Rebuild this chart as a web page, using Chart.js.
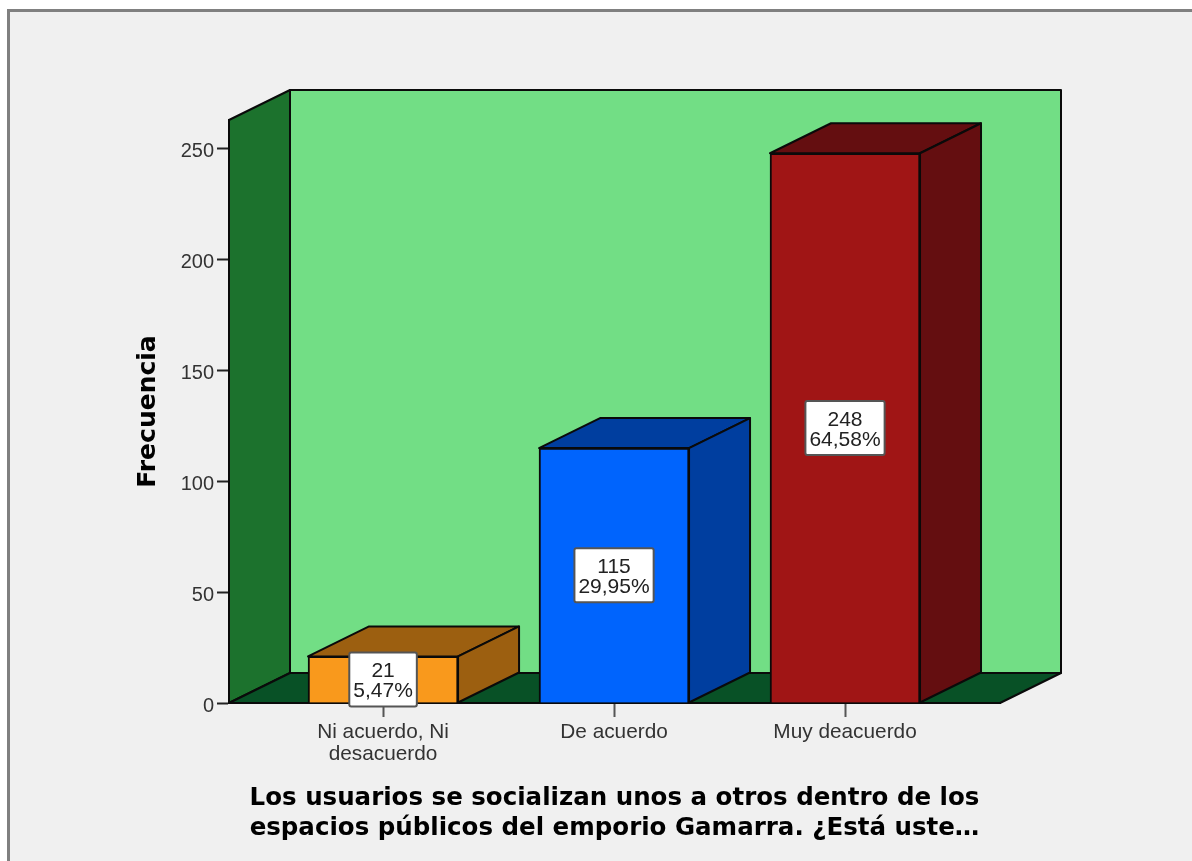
<!DOCTYPE html>
<html>
<head>
<meta charset="utf-8">
<title>Frecuencia</title>
<script src="https://cdn.jsdelivr.net/npm/chart.js@4"></script>
<style>
    html, body { margin: 0; background: #fff; overflow: hidden; }
    #frame {
        position: absolute; left: 7px; top: 9px; right: -4px; bottom: -4px;
        background: #f0f0f0; border: 3px solid #808080;
    }
    #myChart { position: absolute; left: 0; top: 0; filter: blur(0.5px); }
</style>
</head>
<body>
<div id="frame"></div>
<canvas id="myChart" width="1192" height="861"></canvas>
<script>
const categories = [['Ni acuerdo, Ni', 'desacuerdo'], 'De acuerdo', 'Muy deacuerdo'];
const counts = [21, 115, 248];
const percents = ['5,47%', '29,95%', '64,58%'];
const frontColors = ['#f9991c', '#0064fd', '#a01515'];
const sideColors = ['#9c5f10', '#003e9f', '#640e10'];
const yTicks = [0, 50, 100, 150, 200, 250];
const xTitle = ['Los usuarios se socializan unos a otros dentro de los', 'espacios públicos del emporio Gamarra. ¿Está uste…'];

// how far the back of the 3D box sits from the front
const depthX = 61;
const depthY = 30;

function poly(ctx, pts, fill){
    ctx.beginPath();
    ctx.moveTo(pts[0][0], pts[0][1]);
    for(let i = 1; i < pts.length; i++){
        ctx.lineTo(pts[i][0], pts[i][1]);
    }
    ctx.closePath();
    ctx.fillStyle = fill;
    ctx.fill();
    ctx.lineWidth = 2;
    ctx.strokeStyle = '#0a0a0a';
    ctx.lineJoin = 'round';
    ctx.stroke();
}

const box3d = {
    id: 'box3d',
    beforeDraw(chart){
        const {ctx, chartArea: a} = chart;
        const bx = a.left + depthX, by = a.top - depthY;
        const rx = a.right + depthX, fy = a.bottom - depthY;
        ctx.save();
        poly(ctx, [[bx, by], [rx, by], [rx, fy], [bx, fy]], '#72de85');
        poly(ctx, [[a.left, a.top], [bx, by], [bx, fy], [a.left, a.bottom]], '#1c722d');
        poly(ctx, [[a.left, a.bottom], [bx, fy], [rx, fy], [a.right, a.bottom]], '#085126');
        ctx.restore();
    },
    beforeDatasetsDraw(chart){
        const ctx = chart.ctx;
        ctx.save();
        chart.getDatasetMeta(0).data.forEach((bar, i) => {
            const l = bar.x - bar.width / 2, r = bar.x + bar.width / 2;
            poly(ctx, [[l, bar.y], [l + depthX, bar.y - depthY], [r + depthX, bar.y - depthY], [r, bar.y]], sideColors[i]);
            poly(ctx, [[r, bar.y], [r + depthX, bar.y - depthY], [r + depthX, bar.base - depthY], [r, bar.base]], sideColors[i]);
        });
        ctx.restore();
    },
    afterDatasetsDraw(chart){
        const ctx = chart.ctx;
        ctx.save();
        ctx.font = '21px "Liberation Sans"';
        ctx.textAlign = 'center';
        ctx.textBaseline = 'middle';
        chart.getDatasetMeta(0).data.forEach((bar, i) => {
            const cy = (bar.y + bar.base) / 2;
            const w = ctx.measureText(percents[i]).width + 8;
            ctx.beginPath();
            ctx.roundRect(bar.x - w / 2, cy - 27, w, 54, 2);
            ctx.fillStyle = '#fff';
            ctx.fill();
            ctx.lineWidth = 2;
            ctx.strokeStyle = '#555';
            ctx.stroke();
            ctx.fillStyle = '#222';
            ctx.fillText(String(counts[i]), bar.x, cy - 8);
            ctx.fillText(percents[i], bar.x, cy + 12);
        });
        ctx.restore();
    }
};

new Chart(document.getElementById('myChart'), {
    type: 'bar',
    data: {
        datasets: [{
            data: counts.map((v, i) => ({x: i, y: v})),
            backgroundColor: frontColors,
            borderColor: '#0a0a0a',
            borderWidth: 2,
            barThickness: 150
        }]
    },
    options: {
        responsive: false,
        animation: false,
        layout: { padding: { top: 120, right: 192, left: 133, bottom: 0 } },
        plugins: { legend: { display: false }, tooltip: { enabled: false } },
        scales: {
            x: {
                type: 'linear',
                offset: false,
                bounds: 'data',
                min: -0.667,
                max: 2.671,
                afterBuildTicks(scale){ scale.ticks = categories.map((c, i) => ({value: i})); },
                afterFit(scale){ scale.height = 158; },
                grid: { offset: false, drawOnChartArea: false, tickLength: 14, tickColor: '#555', tickWidth: 2 },
                border: { color: '#0a0a0a', width: 2 },
                ticks: {
                    autoSkip: false,
                    maxRotation: 0,
                    padding: 5,
                    color: '#333',
                    font: { family: 'Liberation Sans', size: 20.8, lineHeight: 1.02 },
                    callback: v => categories[v]
                },
                title: {
                    display: true,
                    text: xTitle,
                    color: '#000',
                    font: { family: 'DejaVu Sans', size: 24.5, weight: 'bold', lineHeight: 1.24 },
                    padding: { top: 0, bottom: 17 }
                }
            },
            y: {
                min: 0,
                max: 263,
                afterBuildTicks(scale){ scale.ticks = yTicks.map(v => ({value: v})); },
                afterFit(scale){ scale.width = 96; },
                grid: { drawOnChartArea: false, tickLength: 12, tickColor: '#222', tickWidth: 2 },
                border: { color: '#0a0a0a', width: 2 },
                ticks: {
                    padding: 3,
                    color: '#333',
                    font: { family: 'Liberation Sans', size: 20, lineHeight: 0.3 },
                    // blank first line pushes the number a few px under its tick
                    callback: v => ['', String(v)]
                },
                title: {
                    display: true,
                    text: 'Frecuencia',
                    color: '#000',
                    font: { family: 'DejaVu Sans', size: 25, weight: 'bold' },
                    padding: { top: 0, bottom: 0 }
                }
            }
        }
    },
    plugins: [box3d]
});
</script>
</body>
</html>
